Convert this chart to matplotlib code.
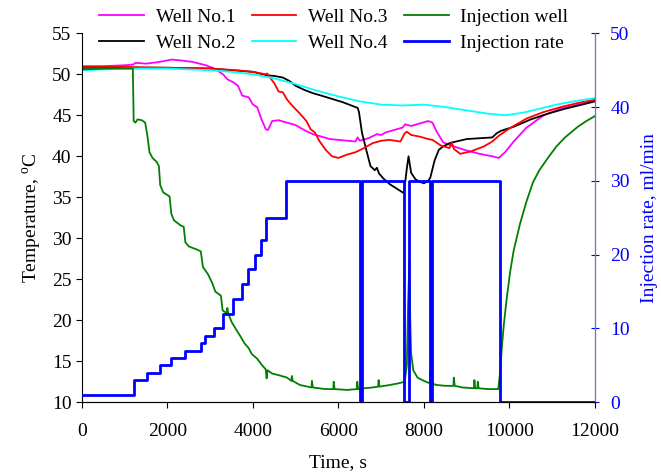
import matplotlib
matplotlib.use("Agg")
import matplotlib.pyplot as plt

plt.rcParams['font.family'] = ['Liberation Serif', 'DejaVu Serif']
plt.rcParams['font.size'] = 14
plt.rcParams['mathtext.fontset'] = 'custom'
plt.rcParams['mathtext.rm'] = 'Liberation Serif'

# Well No.1 (magenta)
t_w1 = [0, 500, 1000, 1200, 1250, 1500, 1800, 2100, 2300, 2600, 2900, 3100, 3300, 3400,
        3550, 3650, 3750, 3900, 4000, 4100, 4200, 4300, 4350, 4450, 4600, 4800, 5000, 5200,
        5400, 5600, 5800, 6000, 6200, 6400, 6450, 6500, 6700, 6900, 7000, 7100, 7300, 7500,
        7560, 7700, 7900, 8100, 8200, 8300, 8450, 8700, 9000, 9300, 9600, 9750, 9900, 10100,
        10400, 10800, 11200, 11600, 12000]
T_w1 = [51.0, 51.0, 51.1, 51.2, 51.4, 51.3, 51.5, 51.8, 51.7, 51.5, 51.1, 50.7, 50.0, 49.4,
        49.0, 48.6, 47.4, 47.2, 46.3, 46.0, 44.5, 43.3, 43.2, 44.3, 44.4, 44.1, 43.8, 43.2,
        42.7, 42.4, 42.1, 42.0, 41.9, 41.8, 42.3, 41.9, 42.2, 42.7, 42.6, 42.9, 43.2, 43.5,
        43.9, 43.7, 44.0, 44.3, 44.1, 43.0, 41.7, 41.2, 40.7, 40.3, 40.0, 39.8, 40.5, 41.8,
        43.5, 45.0, 45.8, 46.3, 46.8]

# Well No.2 (black)
t_w2 = [0, 1000, 2000, 3000, 4000, 4300, 4500, 4700, 4850, 5000, 5200, 5400, 5600, 5850,
        6100, 6300, 6450, 6480, 6550, 6650, 6750, 6850, 6900, 6950, 7050, 7200, 7350, 7500,
        7530, 7600, 7640, 7700, 7800, 7900, 8000, 8100, 8150, 8250, 8350, 8450, 8600, 8750,
        9000, 9300, 9600, 9700, 9800, 10100, 10500, 10900, 11300, 11700, 12000]
T_w2 = [50.8, 50.8, 50.8, 50.7, 50.3, 49.9, 49.8, 49.6, 49.2, 48.6, 48.1, 47.7, 47.4, 47.0,
        46.6, 46.2, 45.9, 45.4, 42.9, 40.8, 38.8, 38.3, 38.6, 37.9, 37.3, 36.6, 36.1, 35.6,
        35.5, 38.5, 40.0, 38.0, 37.2, 36.9, 36.7, 37.0, 37.4, 39.5, 40.8, 41.2, 41.6, 41.8,
        42.1, 42.2, 42.3, 42.8, 43.1, 43.6, 44.5, 45.2, 45.8, 46.3, 46.7]

# Well No.3 (red)
t_w3 = [0, 1000, 2000, 3000, 3600, 4000, 4300, 4330, 4400, 4500, 4600, 4700, 4800, 4950,
        5100, 5250, 5350, 5450, 5550, 5700, 5850, 6000, 6200, 6400, 6600, 6800, 7000, 7200,
        7450, 7550, 7600, 7700, 7900, 8100, 8200, 8400, 8600, 8650, 8700, 8850, 9100, 9400,
        9600, 9750, 10000, 10400, 10800, 11200, 11600, 12000]
T_w3 = [50.9, 50.9, 50.8, 50.7, 50.5, 50.3, 50.0, 50.1, 49.6, 48.9, 47.9, 47.8, 46.9, 46.0,
        45.2, 44.3, 43.3, 42.9, 41.9, 40.8, 40.0, 39.8, 40.2, 40.5, 41.0, 41.6, 41.9, 42.0,
        41.8, 42.8, 43.0, 42.6, 42.4, 42.1, 42.0, 41.3, 41.0, 41.7, 40.9, 40.3, 40.6, 41.2,
        41.8, 42.5, 43.4, 44.6, 45.4, 46.0, 46.5, 46.9]

# Well No.4 (cyan)
t_w4 = [0, 1000, 2000, 3000, 3500, 4000, 4500, 5000, 5500, 6000, 6500, 7000, 7500, 8000,
        8500, 9000, 9500, 9900, 10300, 10700, 11100, 11500, 12000]
T_w4 = [50.5, 50.7, 50.7, 50.5, 50.3, 50.0, 49.5, 48.8, 48.0, 47.3, 46.7, 46.3, 46.2, 46.3,
        46.0, 45.6, 45.2, 45.0, 45.3, 45.8, 46.3, 46.7, 47.1]

# Injection well (green)
t_inj = [0, 600, 1190, 1210, 1250, 1300, 1400, 1480, 1530, 1580, 1650, 1750, 1800, 1830,
         1900, 2050, 2090, 2150, 2300, 2380, 2420, 2500, 2700, 2780, 2830, 2950, 3050, 3120,
         3250, 3290, 3350, 3390, 3400, 3420, 3500, 3650, 3700, 3800, 3900, 3970, 4100, 4200,
         4300, 4320, 4340, 4450, 4600, 4800, 4900, 4910, 4930, 5100, 5370, 5380, 5400, 5700,
         5880, 5890, 5910, 6200, 6430, 6440, 6460, 6600, 6800, 6930, 6940, 6960, 7200, 7400,
         7550, 7600, 7630, 7660, 7680, 7700, 7750, 7850, 8000, 8140, 8150, 8170, 8300, 8500,
         8690, 8700, 8720, 8900, 9170, 9180, 9200, 9250, 9260, 9280, 9500, 9740, 9780, 9820,
         9870, 9940, 10020, 10100, 10250, 10400, 10550, 10700, 10900, 11100, 11300, 11600,
         11800, 12000]
T_inj = [50.6, 50.7, 50.7, 44.3, 44.1, 44.5, 44.4, 44.1, 42.5, 40.5, 39.8, 39.3, 38.8, 36.5,
         35.6, 35.1, 33.0, 32.2, 31.6, 31.4, 29.5, 29.0, 28.6, 28.4, 26.5, 25.6, 24.5, 23.5,
         23.0, 21.2, 21.0, 20.7, 21.5, 20.9, 19.8, 18.5, 18.1, 17.2, 16.6, 15.9, 15.3, 14.6,
         14.0, 12.9, 13.9, 13.5, 13.3, 13.0, 12.6, 13.2, 12.6, 12.1, 11.8, 12.6, 11.8, 11.6,
         11.6, 12.5, 11.6, 11.5, 11.6, 12.5, 11.6, 11.7, 11.8, 11.9, 12.7, 11.9, 12.1, 12.3,
         12.5, 14.5, 22.0, 27.3, 20.0, 16.0, 13.9, 13.0, 12.6, 12.3, 13.7, 12.3, 12.1, 12.0,
         12.0, 13.0, 12.0, 11.8, 11.7, 12.7, 11.7, 11.7, 12.5, 11.7, 11.6, 11.6, 13.5, 16.5,
         19.5, 22.8, 26.0, 28.5, 31.8, 34.5, 36.8, 38.3, 39.8, 41.2, 42.3, 43.6,
         44.3, 44.9]

# Injection rate (blue, right axis), step changes
t_rate = [0, 1220, 1520, 1815, 2080, 2420, 2785, 2885, 3100, 3310, 3545, 3735, 3895, 4045,
          4180, 4295, 4780, 6510, 6540, 7540, 7640, 8150, 8180, 9770, 12000]
rate = [1, 3, 4, 5, 6, 7, 8, 9, 10, 12, 14, 16, 18, 20, 22, 25, 30, 0, 30, 0, 30, 0, 30, 0, 0]

fig = plt.figure(figsize=(6.61, 4.76), dpi=100)
ax = fig.add_axes([0.124, 0.155, 0.776, 0.775])

l1, = ax.plot(t_w1, T_w1, color='magenta', lw=1.3, label='Well No.1')
l2, = ax.plot(t_w2, T_w2, color='black', lw=1.3, label='Well No.2')
l3, = ax.plot(t_w3, T_w3, color='red', lw=1.3, label='Well No.3')
l4, = ax.plot(t_w4, T_w4, color='cyan', lw=1.3, label='Well No.4')
l5, = ax.plot(t_inj, T_inj, color='green', lw=1.3, label='Injection well')

ax.set_xlim(0, 12000)
ax.set_ylim(10, 55)
ax.set_xticks(range(0, 12001, 2000))
ax.set_yticks(range(10, 56, 5))
ax.set_xlabel('Time, s', labelpad=10)
ax.set_ylabel(r'Temperature, $^\mathrm{o}$C', labelpad=6)
ax.spines['top'].set_visible(False)
ax.tick_params(direction='out', length=4)
ax.tick_params(axis='x', pad=11)

ax2 = ax.twinx()
l6, = ax2.plot(t_rate, rate, color='blue', lw=2, drawstyle='steps-post', label='Injection rate')
ax2.set_ylim(0, 50)
ax2.set_yticks(range(0, 51, 10))
ax2.set_ylabel('Injection rate, ml/min', color='blue', labelpad=8)
ax2.tick_params(axis='y', colors='blue', direction='inout', length=6, pad=8)
ax2.spines['right'].set_color('#7070ff')
ax2.spines['top'].set_visible(False)
ax2.spines['left'].set_visible(False)

fig.legend(handles=[l1, l2, l3, l4, l5, l6], ncol=3, loc='center',
           bbox_to_anchor=(0.505, 0.937), frameon=False, handlelength=2.3,
           handletextpad=0.6, columnspacing=0.85, labelspacing=0.45)

fig.savefig('out.png', dpi=100)
